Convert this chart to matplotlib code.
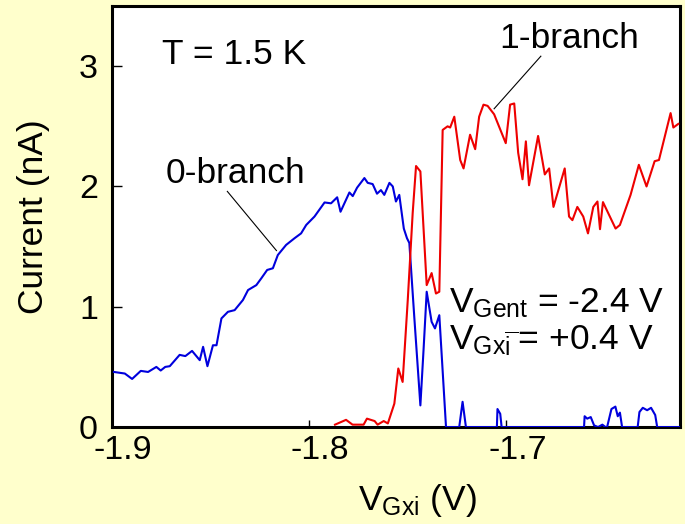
import matplotlib
matplotlib.use("Agg")
import matplotlib.pyplot as plt
from matplotlib.transforms import ScaledTranslation

# ==============================
# data
# ==============================

# 0-branch (blue)
v0 = [-1.899, -1.8935, -1.8898, -1.8854, -1.8817, -1.8775, -1.8753, -1.873, -1.8707,
      -1.8657, -1.8628, -1.8594, -1.8555, -1.8538, -1.8516, -1.8488, -1.847, -1.8445,
      -1.8412, -1.8378, -1.8336, -1.831, -1.8268, -1.8243, -1.8213, -1.8184, -1.8159,
      -1.8117, -1.8074, -1.8041, -1.8015, -1.7973, -1.7922, -1.7889, -1.7858, -1.7841,
      -1.7796, -1.7779, -1.7757, -1.772, -1.7703, -1.7678, -1.7656, -1.7636, -1.7619,
      -1.7593, -1.7576, -1.756, -1.7543, -1.752, -1.7504, -1.7492, -1.7467, -1.7436,
      -1.742, -1.7404, -1.7379, -1.7362, -1.734, -1.7306, -1.7239, -1.7222, -1.7205,
      -1.7048, -1.7045, -1.7031, -1.7024, -1.6606, -1.6603, -1.659, -1.6572, -1.6555,
      -1.6535, -1.6513, -1.6497, -1.6489, -1.6467, -1.6447, -1.6435, -1.6424, -1.6413,
      -1.6334, -1.6325, -1.6308, -1.6286, -1.6266, -1.6245, -1.6235, -1.612]
i0 = [0.458, 0.445, 0.40, 0.467, 0.458, 0.50, 0.47, 0.50, 0.506,
      0.60, 0.59, 0.633, 0.556, 0.667, 0.506, 0.68, 0.68, 0.903,
      0.958, 0.972, 1.056, 1.139, 1.18, 1.236, 1.306, 1.32, 1.43,
      1.514, 1.57, 1.61, 1.68, 1.75, 1.867, 1.86, 1.91, 1.79,
      1.95, 1.92, 1.99, 2.07, 2.03, 2.02, 1.94, 1.97, 1.93,
      2.03, 2.0, 1.875, 1.93, 1.65, 1.57, 1.53, 0.917, 0.18,
      0.64, 1.125, 0.875, 0.82, 0.93, 0.0, 0.0, 0.21, 0.0,
      0.0, 0.15, 0.11, 0.0, 0.0, 0.09, 0.07, 0.083, 0.014,
      0.0, 0.02, 0.0, 0.0, 0.15, 0.17, 0.09, 0.12, 0.0,
      0.0, 0.125, 0.16, 0.14, 0.16, 0.10, 0.0, 0.0]

# 1-branch (red)
v1 = [-1.7869, -1.7813, -1.778, -1.7724, -1.7707, -1.7668, -1.7653, -1.7622, -1.7601,
      -1.7568, -1.7548, -1.7526, -1.75, -1.7475, -1.7458, -1.7436, -1.7404, -1.7379,
      -1.7357, -1.734, -1.7323, -1.7298, -1.7285, -1.7264, -1.7234, -1.7217, -1.7184,
      -1.7158, -1.7138, -1.7116, -1.7095, -1.7062, -1.7003, -1.6981, -1.696, -1.694,
      -1.6918, -1.6901, -1.6885, -1.6839, -1.6805, -1.6783, -1.6761, -1.6704, -1.6682,
      -1.6665, -1.664, -1.661, -1.6586, -1.6559, -1.6538, -1.6525, -1.651, -1.6446,
      -1.6424, -1.637, -1.6328, -1.6289, -1.6248, -1.6226, -1.6167, -1.6153, -1.6128]
i1 = [0.02, 0.06, 0.02, 0.02, 0.07, 0.05, 0.02, 0.05, 0.03,
      0.195, 0.487, 0.375, 1.056, 1.78, 2.17, 2.125, 1.18, 1.28,
      1.11, 1.125, 2.47, 2.5, 2.49, 2.58, 2.22, 2.15, 2.43,
      2.31, 2.58, 2.68, 2.67, 2.6, 2.36, 2.68, 2.69, 2.28,
      2.06, 2.375, 2.01, 2.42, 2.1, 2.15, 1.83, 2.15, 1.75,
      1.72, 1.83, 1.75, 1.61, 1.83, 1.875, 1.645, 1.87, 1.65,
      1.68, 1.93, 2.18, 2.0, 2.21, 2.22, 2.61, 2.49, 2.52]

XTICKS = [-1.9, -1.8, -1.7]
YTICKS = [0, 1, 2, 3]

# ==============================
# figure
# ==============================

plt.rcParams["font.family"] = ["Liberation Sans", "DejaVu Sans"]
plt.rcParams["mathtext.fontset"] = "custom"
plt.rcParams["mathtext.rm"] = "Liberation Sans"
plt.rcParams["mathtext.it"] = "Liberation Sans"
plt.rcParams["axes.unicode_minus"] = False

BG = "#ffffcc"
FS_TICK = 24.5
FS = 25.5

fig = plt.figure(figsize=(6.85, 5.24), dpi=100, facecolor=BG)
ax = fig.add_axes([0.1635, 0.185, 0.829, 0.8035])

ax.plot(v0, i0, color="#0000dd", lw=1.5, zorder=3)
ax.plot(v1, i1, color="#ee0000", lw=1.5, zorder=3)

ax.set_xlim(-1.9, -1.612)
ax.set_ylim(0, 3.5)
ax.set_xticks(XTICKS)
ax.set_xticklabels([str(t) for t in XTICKS])
ax.set_yticks(YTICKS)
ax.set_yticklabels([str(t) for t in YTICKS])

for s in ax.spines.values():
    s.set_linewidth(2.2)
ax.tick_params(axis="x", direction="in", length=5, width=1, labelsize=FS_TICK, pad=6)
ax.tick_params(axis="y", direction="in", length=7, width=1, labelsize=FS_TICK, pad=10)

# the x labels sit a bit right of their ticks in the original
off = ScaledTranslation(8 / 72, 0, fig.dpi_scale_trans)
for lab in ax.get_xticklabels():
    lab.set_transform(lab.get_transform() + off)

ax.set_xlabel(r"V$_{\mathrm{Gxi}}$ (V)", fontsize=FS)
ax.xaxis.set_label_coords(0.537, -0.13)
ax.xaxis.label.set_va("top")
ax.set_ylabel("Current (nA)", fontsize=FS)
ax.yaxis.set_label_coords(-0.11, 0.50)

# annotations
ax.text(-1.8744, 3.014, "T = 1.5 K", fontsize=FS, va="baseline")
ax.text(-1.8729, 2.028, "0-branch", fontsize=FS, va="baseline")
ax.plot([-1.8415, -1.8166], [1.959, 1.467], color="black", lw=0.8)
ax.text(-1.7036, 3.153, "1-branch", fontsize=FS, va="baseline")
ax.plot([-1.6825, -1.7062], [3.083, 2.646], color="black", lw=0.8)
ax.text(-1.7291, 0.958, r"V$_{\mathrm{Gent}}$ = -2.4 V", fontsize=FS, va="baseline")
ax.text(-1.7291, 0.639, r"V$_{\mathrm{Gx}\overline{\mathrm{i}\ }}$= +0.4 V",
        fontsize=FS, va="baseline")

fig.savefig("out.png", dpi=100, facecolor=BG)
